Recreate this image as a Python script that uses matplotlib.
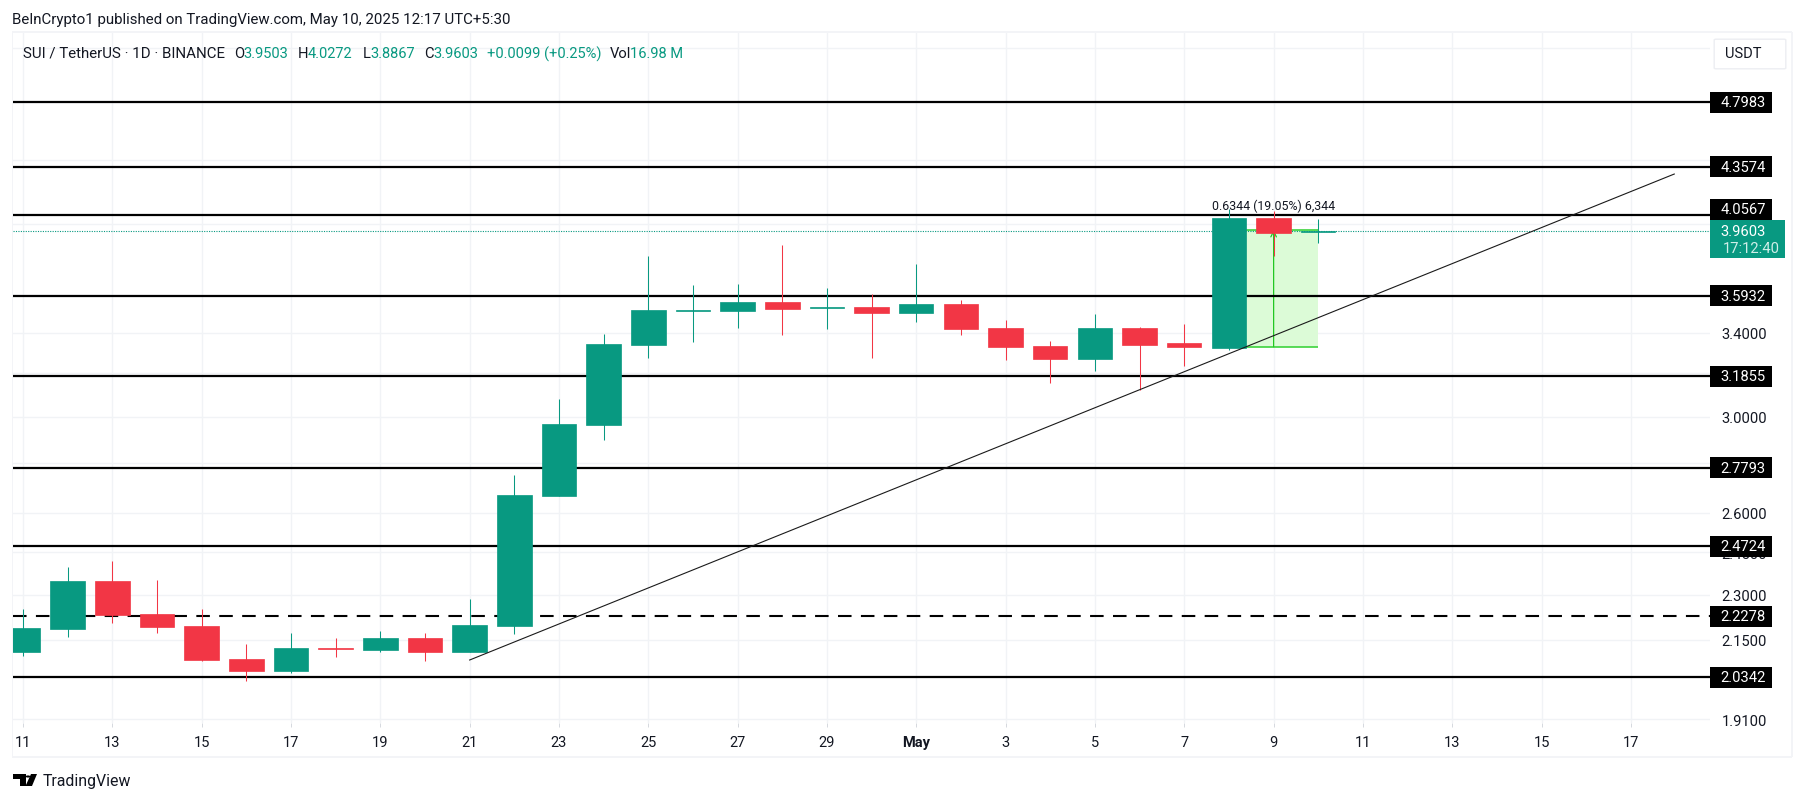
import matplotlib
matplotlib.use('Agg')
import matplotlib.pyplot as plt
from matplotlib.patches import Rectangle, FancyBboxPatch, Polygon

plt.rcParams['font.family'] = ['Roboto', 'DejaVu Sans']

W, H = 1804, 803
GREEN = '#089981'
RED = '#f23645'
DARK = '#131722'
GRID = '#f1f3f6'

# daily candles from Apr 11 to May 10
opens = [2.1125, 2.1853, 2.3476, 2.2348, 2.1951, 2.0896, 2.0525, 2.1242, 2.1178, 2.1561,
         2.1116, 2.1951, 2.6652, 2.9631, 3.3388, 3.5126, 3.5126, 3.5601, 3.5284, 3.5336,
         3.5022, 3.5495, 3.4246, 3.3339, 3.2697, 3.4246, 3.3488, 3.3239, 4.0356, 3.9503]
highs = [2.2515, 2.3972, 2.4188, 2.3511, 2.2515, 2.1369, 2.1722, 2.1561, 2.1788, 2.1722,
         2.2854, 2.7500, 3.0803, 3.3941, 3.8131, 3.6516, 3.6570, 3.8762, 3.6353, 3.6029,
         3.7679, 3.5700, 3.4657, 3.3588, 3.4970, 3.4297, 3.4457, 4.0899, 4.0780, 4.0272]
lows = [2.0990, 2.1593, 2.2059, 2.1732, 2.0834, 2.0230, 2.0464, 2.0959, 2.1116, 2.0834,
        2.1116, 2.1691, 2.6652, 2.8975, 3.2747, 3.3538, 3.4246, 3.3890, 3.4195, 3.2747,
        3.4554, 3.3890, 3.2649, 3.1547, 3.2117, 3.1220, 3.2358, 3.3140, 3.8131, 3.8867]
closes = [2.1885, 2.3476, 2.2315, 2.1918, 2.0865, 2.0525, 2.1242, 2.1210, 2.1561, 2.1116,
          2.1984, 2.6691, 2.9675, 3.3438, 3.5178, 3.5178, 3.5601, 3.5231, 3.5336, 3.5022,
          3.5495, 3.4195, 3.3289, 3.2697, 3.4246, 3.3388, 3.3289, 4.0356, 3.9463, 3.9603]

solid_levels = [4.7983, 4.3574, 4.0567, 3.5932, 3.1855, 2.7793, 2.4724, 2.0342]
dashed_level = 2.2278
last_price = 3.9603

# price scale, the blank ones sit fully behind a label or the USDT button
price_ticks = [5.2, 4.8, 4.4, 4.0, 3.6, 3.4, 3.2, 3.0, 2.8, 2.6, 2.45, 2.3, 2.15, 1.91]
hidden_ticks = [5.2, 4.8, 3.6]
date_ticks = list(range(0, 37, 2))
date_labels = ['11', '13', '15', '17', '19', '21', '23', '25', '27', '29',
               'May', '3', '5', '7', '9', '11', '13', '15', '17']

# trend line and long position tool
trend_x = [10, 36.97]
trend_y = [2.0865, 4.3093]
range_x = [27, 29]
range_low = 3.33
range_high = 3.9644


def fx(px):
    return px / W


def fy(py):
    return 1 - py / H


def put(x, y, s, color=DARK, size=10.5, **kw):
    fig.text(fx(x), fy(y), s, color=color, fontsize=size, va='center', **kw)


fig = plt.figure(figsize=(W / 100, H / 100), dpi=100)
ax = fig.add_axes([fx(13), fy(724), fx(1710 - 13), (724 - 34) / H])
ax.set_yscale('log')
ax.set_xlim(-0.224, 37.77)
ax.set_ylim(1.8993, 5.3188)
for s in ax.spines.values():
    s.set_visible(False)

ax.yaxis.tick_right()
ax.set_yticks(price_ticks)
ax.set_yticklabels(['' if v in hidden_ticks else f'{v:.4f}' for v in price_ticks])
ax.minorticks_off()
ax.set_xticks(date_ticks)
ax.set_xticklabels(date_labels)
ax.tick_params(axis='y', length=0, pad=8.5, labelsize=10.6, labelcolor=DARK)
ax.tick_params(axis='x', length=3, width=0.7, color='#d5d8de', pad=5.5, labelsize=10.5, labelcolor=DARK)
for lab in ax.get_xticklabels():
    if lab.get_text() == 'May':
        lab.set_fontweight('bold')
ax.grid(True, color=GRID, lw=1.0)
ax.set_axisbelow(True)

# long position tool goes under the candles
ax.fill_between(range_x, range_low, range_high, color='#dcfbd7', lw=0, zorder=1)
ax.hlines([range_low, range_high], range_x[0], range_x[1], color='#2ed02e', lw=1.1, zorder=1.5)
ax.annotate('', xy=(28, range_high), xytext=(28, range_low),
            arrowprops=dict(arrowstyle='->', color='#22c822', lw=0.9, shrinkA=0, shrinkB=0), zorder=1.5)

ax.hlines(solid_levels, -0.224, 37.77, color='black', lw=1.6, zorder=2)
ax.plot([-0.224, 37.77], [dashed_level] * 2, color='black', lw=1.5, ls=(0, (6.5, 4.5)), zorder=2)
ax.plot([-0.224, 37.77], [last_price] * 2, color=GREEN, lw=0.8, ls=(0, (1, 1.2)), zorder=2)

for i in range(len(opens)):
    col = GREEN if closes[i] >= opens[i] else RED
    ax.vlines(i, lows[i], highs[i], color=col, lw=0.75, zorder=3)
    ax.bar(i, abs(closes[i] - opens[i]), 0.77, bottom=min(opens[i], closes[i]),
           color=col, edgecolor=col, lw=0.5, zorder=3)

ax.plot(trend_x, trend_y, color='#1a1a1a', lw=0.8, zorder=4)
ax.text(28, 4.115, '0.6344 (19.05%) 6,344', ha='center', va='center', fontsize=8.9, color=DARK, zorder=5)

# frame around the pane
for box in [(12, 32, 1780, 2), (12, 757, 1780, 2), (11.5, 33, 1.5, 725), (1791, 33, 1.5, 725)]:
    fig.add_artist(Rectangle((fx(box[0]), fy(box[1] + box[3])), box[2] / W, box[3] / H,
                             transform=fig.transFigure, color='#f3f4f7', lw=0, zorder=0.5))

# price labels on the scale
label_shift = {4.0567: -5.5}
for v in solid_levels + [dashed_level]:
    py = H - ax.transData.transform((0, v))[1] + label_shift.get(v, 0)
    fig.add_artist(Rectangle((fx(1710), fy(py + 10.5)), 62 / W, 21 / H, transform=fig.transFigure,
                             color='black', lw=0, zorder=2))
    put(1743, py, f'{v:.4f}', color='white', ha='center', zorder=3, size=10.6)

py = H - ax.transData.transform((0, last_price))[1]
fig.add_artist(Rectangle((fx(1710), fy(259)), 75 / W, 38 / H, transform=fig.transFigure,
                         color=GREEN, lw=0, zorder=2))
put(1743, py, f'{last_price:.4f}', color='white', ha='center', zorder=3, size=10.6)
put(1751, 249, '17:12:40', color='#cfeee8', ha='center', zorder=3, size=10.6)

fig.add_artist(FancyBboxPatch((fx(1716), fy(69)), 68 / W, 28 / H, boxstyle='round,pad=0.001',
                              transform=fig.transFigure, fc='white', ec='#eceef2', lw=1, zorder=2))
put(1743, 54.5, 'USDT', ha='center', zorder=3, size=10.5)

# header rows
put(12.5, 20, 'BeInCrypto1 published on TradingView.com, May 10, 2025 12:17 UTC+5:30', size=10.85)
put(23, 54, 'SUI / TetherUS · 1D · BINANCE', size=10.8)
for x, s in [(234, 'O'), (298, 'H'), (362.5, 'L'), (424, 'C'), (610, 'Vol')]:
    put(x, 54, s, size=10.6)
for x, s in [(243, '3.9503'), (308, '4.0272'), (370.5, '3.8867'), (433, '3.9603'),
             (486.6, '+0.0099 (+0.25%)'), (629.5, '16.98 M')]:
    put(x, 54, s, color=GREEN, size=10.5)

# TradingView mark
for pts in [[(13, 775), (26, 775), (26, 787), (20, 787), (20, 780), (13, 780)],
            [(31, 775), (37, 775), (32, 787), (25.5, 787)]]:
    fig.add_artist(Polygon([(fx(a), fy(b)) for a, b in pts], transform=fig.transFigure, color='black', lw=0))
fig.add_artist(plt.Circle((fx(28), fy(777.5)), 2.4 / W, transform=fig.transFigure, color='black', lw=0))
put(42.5, 781.5, 'TradingView', size=11.4)

fig.savefig('out.png', dpi=100)
